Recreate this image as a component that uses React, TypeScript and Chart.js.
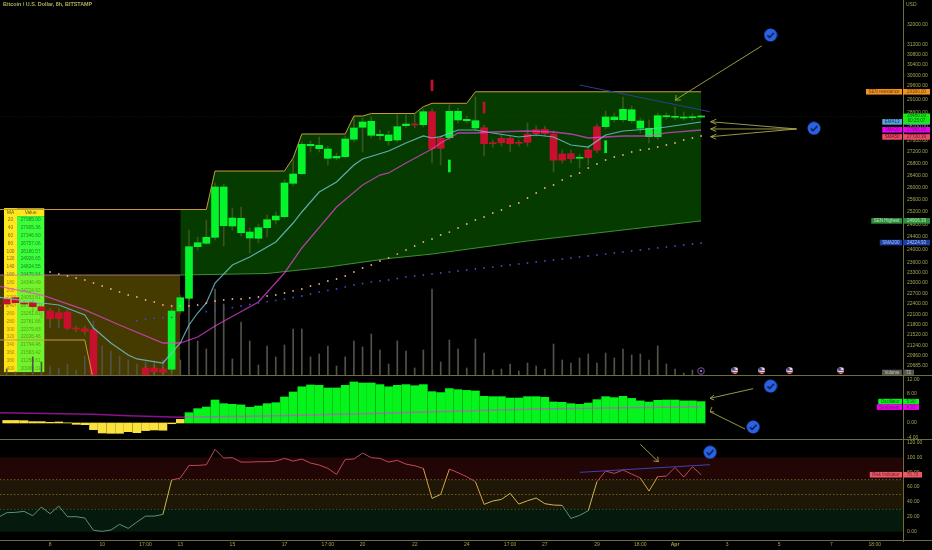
import React, { useEffect, useRef } from "react";
import { Chart, registerables } from "chart.js";

Chart.register(...registerables);

// ---------- data: candles start at index -1 ----------
const candleOpen = [22365,22538,22575,22423,22431,22317,22203,22146,22166,21703,21697,21661,null,null,null,null,null,20634,20634,20608,20600,22194,22558,24097,24202,24388,24753,24743,24532,24367,24357,24690,24935,25040,26133,26456,27420,27316,26983,26993,27038,27647,28075,27788,27774,27597,27622,28132,28193,28168,28640,27682,27703,28338,28312,28050,28060,27516,27682,27682,27540,27835,27989,28003,27835,27132,27142,26983,27271,28096,28096,28348,28348,28312,28040,27739,27739,28457,28436,28410,28421,28447];
const candleClose = [22337,22394,22431,22394,22317,22203,21977,21977,21709,21689,21625,20300,null,null,null,null,null,20432,20529,20521,22194,22575,24097,24220,24388,26010,26010,24998,24989,24554,24690,24944,25062,26143,26446,27470,27470,27435,27306,27052,27657,28050,28266,28291,27824,27799,28096,28193,28157,28640,27316,27330,28655,28655,28363,28312,27491,27491,27526,27491,27505,27540,27845,27845,26918,26918,26970,27018,27004,27261,28447,28447,28728,28713,28302,28040,28494,28494,28472,28447,28457,28465];
const wickHigh = [22423,22595,22653,22480,22509,22394,22280,22280,22223,21772,21772,21717,null,null,null,null,null,20687,20713,20660,22365,22653,24617,24398,24935,26143,26110,25320,25352,24680,24807,25094,25191,26244,26924,27551,27587,27728,27410,27167,27764,28447,28410,28447,27978,27942,28519,28519,28556,28739,28739,27764,28886,28776,28483,29184,28157,27622,27799,27764,27622,28229,28121,28121,27942,27271,27271,27132,27410,28193,28666,28592,29184,28850,28410,28338,28592,28592,28813,28629,28556,28519];
const wickLow = [22223,22308,22337,22337,22166,21997,21717,21717,21661,21606,21523,20300,null,null,null,null,null,20424,20424,20424,20529,22109,22509,23996,24149,24304,24118,24617,24429,23903,24211,24398,24807,24998,26043,26412,27201,27201,26752,26924,26993,27551,27201,27693,27622,27445,27551,28050,28050,28085,26821,26752,27622,28229,28229,27942,27062,27375,27410,27201,27410,27410,27764,27764,26514,26821,26821,26650,26752,27167,28014,28266,28266,28229,27871,27516,27657,28374,28338,28338,28338,28410];
const volumes = [240,560,320,240,1520,1120,800,640,960,480,1600,4400,2400,2000,1600,1280,960,1120,1200,1280,3600,1280,6320,2800,2160,6960,5760,1360,4320,2800,880,2400,1520,2480,3760,3760,1520,1760,2400,800,1520,2800,2320,3360,2080,960,2800,2000,640,2080,6960,1120,2880,2160,640,2960,1840,480,560,960,400,1040,800,560,2560,1280,1040,1440,1760,1040,1840,1440,2160,1680,1760,1280,2400,960,560,240,480,72];

const ema13Idx = [-1,4,6,9,10,12,14,15,18,19,20,21,22,23,24,26,28,31,33,34,36,38,40,41,44,46,48,49,50,52,54,56,59,61,63,65,67,69,71,74,76,80];
const ema13Val = [22595,22423,22365,22081,21717,21304,20979,20873,20766,21033,21304,21800,22137,22423,23004,23539,23781,24242,24838,25191,25844,26177,26752,26959,27236,27516,27764,27693,27740,27978,27978,27871,27728,27799,27728,27445,27375,27799,27942,28014,28085,28266];
const sma20Idx = [-1,4,9,13,18,20,22,24,29,32,34,38,41,43,44,46,49,50,51,52,54,56,60,63,65,67,69,71,74,76,80];
const sma20Val = [22916,22653,22223,21800,21304,21304,21468,21772,22451,23300,24058,25352,26076,26412,26480,26821,27306,27516,27693,27871,27871,27906,27942,27906,27835,27693,27728,27764,27764,27871,27978];

// dotted SMA50, index 5..80
const sma50Start = 5;
const sma50Val = [23329,23270,23210,23151,23092,23004,22916,22828,22741,22653,22595,22509,22451,22365,22337,22337,22337,22365,22423,22480,22509,22538,22538,22566,22595,22624,22653,22711,22770,22828,22916,22975,23063,23122,23210,23329,23449,23539,23660,23751,23872,23996,24118,24242,24335,24460,24553,24680,24807,24935,25030,25159,25255,25385,25482,25647,25811,25977,26076,26244,26378,26480,26650,26786,26924,27028,27097,27201,27271,27306,27375,27445,27516,27622,27693,27764];
// dotted SMA200
const sma200Idx = [5,6,15,16,17,18,19,23,24,25,26,27,28,29,30,31,32,33,34,35,36,37,38,39,40,41,42,43,44,45,46,47,48,49,50,51,52,53,54,55,56,57,58,59,60,61,62,63,64,65,66,67,68,69,70,71,72,73,74,75,76,77,78,79,80];
const sma200Val = [21780,21780,21921,21968,21987,22005,22016,22175,22209,22252,22288,22337,22380,22423,22460,22500,22538,22580,22624,22682,22741,22785,22828,22887,22945,22989,23034,23063,23092,23136,23181,23210,23240,23270,23300,23329,23359,23389,23419,23449,23479,23509,23539,23569,23600,23630,23660,23691,23721,23751,23781,23812,23842,23872,23903,23934,23965,23996,24027,24058,24089,24118,24149,24180,24211];

// step channel (SEN highest) and lower edges
const highIdx = [-1,23,24,32,33,34,39,40,41,42,47,48,49,53,54,80];
const highVal = [25271,25271,26547,26547,26993,27835,27835,28483,28483,28574,28574,28824,28949,28949,29380,29380];
const lowStepIdx = [-1,9,10];
const lowStepVal = [21386,21386,20300];
const greenTopIdx = [20,23,24,32,33,34,39,40,41,42,47,48,49,53,54,80];
const greenTopVal = [25271,25271,26547,26547,26993,27835,27835,28483,28483,28574,28574,28824,28949,28949,29380,29380];
const greenLowIdx = [20,30,37,44,49,60,70,80];
const greenLowVal = [23240,23285,23479,23736,23872,24273,24586,24906];
const oliveIdx = [-1,20];
const oliveTop = [23240,23240];

const sellSignalIdx = [49,55];
const sellSignalTop = [29826,28997];
const sellSignalBottom = [29422,28592];
const buySignalIdx = [51,69];
const buySignalTop = [26924,27597];
const buySignalBottom = [26514,27177];

const flagIdx = [83.9,87,90.2,96.1];
const flagPrice = [20570,20570,20570,20570];
const eventIdx = [80];
const eventPrice = [20555];

const priceTicks = [32000,31200,30800,30400,30000,29600,29100,28600,28100,27600,27200,26800,26400,26000,25600,25200,24800,24400,24000,23600,23300,23000,22700,22400,22100,21800,21520,21240,20960,20685];

const maLengths = [20,40,60,80,100,120,140,160,180,200,220,240,260,280,300,320,340,360,380,400];
const maValues = ["27985.00","27905.36","27346.60","26757.06","26180.57","24926.65","24824.55","24479.64","24346.49","24224.93","24053.81","23751.77","23261.81","22781.66","22379.83","22026.46","21794.46","21583.42","21254.61","20999.31"];

const mainTagNames = ["SEN resistance","EMA13","SMA20","SMA50","SEN Highest","SMA200"];
const mainTagValues = [29380,28270.39,27985,27730.39,24906.39,24224.93];
const mainTagBg = ["#f0941e","#58a6e0","#f000f0","#e84a68","#2f8f3a","#1b3ea8"];
const mainTagFg = ["#6b3a08","#0d3050","#6a0a6a","#6a1020","#b8e0b8","#b0c4f0"];

const trendBlue = [[66,29635],[81,28640]];
const mainArrows = [
  [[87,31160],[77,29070]],
  [[77.65,29070],[77,29070],[77.1,29258]],
  [[91,28014],[81.1,28275]],
  [[91,28014],[81.1,28014]],
  [[91,28014],[81.1,27739]],
  [[81.75,28366],[81.1,28275],[81.75,28186]],
  [[81.75,28103],[81.1,28014],[81.75,27924]],
  [[81.75,27828],[81.1,27739],[81.75,27650]],
];
const mainBadges = [[88,31593],[93,28040]];

// oscillator pane, index 0..80
const oscVal = [0.7,0.7,0.64,0.37,0.37,0.18,0.28,0.05,-0.37,-0.46,-1.84,-2.76,-2.85,-2.85,-2.4,-2.67,-2.1,-1.93,-2.0,-0.2,1.0,2.85,3.96,4.4,6.35,5.34,5.16,5.0,4.33,4.7,5.34,5.6,7.18,8.56,10.0,10.5,10.4,9.67,9.67,10.4,11.33,11.05,11.05,10.6,10.0,10.4,10.6,10.3,10.6,8.65,8.4,9.5,9.2,9.0,8.84,7.37,7.27,7.27,6.9,6.9,7.27,7.27,7.09,5.8,5.7,5.34,5.16,5.5,6.45,7.27,7.0,7.37,6.8,6.1,5.8,6.26,6.35,6.35,6.1,6.1,5.9];
const oscTicks = [12,8,4,0,-4];
const signalIdx = [-1,10,14,20,30,41,61,80];
const signalVal = [2.85,2.4,2.0,1.6,1.93,2.57,3.87,4.5];
const oscArrows = [
  [[86,9.48],[81.03,6.82]],
  [[81.5,7.73],[81.03,6.82],[81.5,6.35]],
  [[85.06,-1.66],[81.03,3.12]],
  [[81.5,3.04],[81.03,3.12],[81.25,4.42]],
];
const oscBadges = [[88,10.2],[86,-1.1]];
const oscTagNames = ["Oscillator","Sentiment"];
const oscTagValues = [5.9,4.39];
const oscTagBg = ["#0cf01c","#f000f0"];
const oscTagFg = ["#0a6010","#6a0a6a"];

// risk pane, index -1..80
const riskVal = [19,25.6,26,27.4,21.5,33.2,24.2,34.5,20.2,20.2,18.4,1.8,0.5,2.2,9.9,4.5,13,21,21,23.3,69.5,72.2,89.2,89.2,90.1,110.8,99.1,99.6,93.7,93.7,94.2,94.2,95,98.7,95,97.8,92.4,89.7,85.2,77.1,97.3,97.8,105.8,99.6,98.7,93.7,96,91,88.8,85.2,44.8,50.2,84.3,79.4,74,67.3,36.8,41.3,43.5,51.6,37.2,41.7,45.3,37.7,35.9,35.4,17.9,22,28.3,67.3,81.6,78.5,83,77.6,72.2,54.7,74,74.9,86.5,73.5,87.4,76.7];
const riskTicks = [120,100,80,60,40,20,0];
const riskBandEdges = [100,70,30,0];
const riskBandColors = ["#220505","#1f1706","#051a0c"];
const riskLevels = [70,50,30];
const riskLevelColors = ["#8c6f38","#8c6f38","#2f7040"];
const riskTrend = [[66.05,79.9],[81.03,90.2]];
const riskArrows = [
  [[73,117.6],[75.07,94.2]],
  [[74.5,95.2],[75.07,94.2],[75,100.9]],
];
const riskBadges = [[81.03,106.9]];

const timeTickIdx = [5,11,16,20,26,32,37,41,47,53,58,62,68,73,77,83,89,95,100];
const timeTickLabels = ["8","10","17:00","13","15","17","17:00","20","22","24","17:00","27","29","18:00","Apr","3","5","7","18:00"];

// ---------- styling ----------
const X_MIN = -0.772;
const X_MAX = 103.26;
const FONT = "'Liberation Sans', Arial, sans-serif";
const AXIS_TEXT = "#a6a655";
const AXIS_LINE = "#6e6e38";
const ARROW = "#a8a848";
const GREEN = "#05f52c";
const RED = "#c8102e";

const pts = (xs: number[], ys: number[]) => xs.map((x, i) => ({ x, y: ys[i] }));
const seq = (ys: (number | null)[], start: number) => ys.map((y, i) => ({ x: start + i, y }));
const pairs = (p: number[][]) => p.map(([x, y]) => ({ x, y }));

const makeBadge = () => {
  const c = document.createElement("canvas");
  c.width = 14; c.height = 14;
  const g = c.getContext("2d")!;
  g.fillStyle = "#2a62e6";
  g.beginPath(); g.arc(7, 7, 6.5, 0, Math.PI * 2); g.fill();
  g.strokeStyle = "#0d1a40"; g.lineWidth = 1.5;
  g.beginPath(); g.moveTo(3.8, 7.2); g.lineTo(6, 9.4); g.lineTo(10.4, 4.8); g.stroke();
  return c;
};
const makeFlag = () => {
  const c = document.createElement("canvas");
  c.width = 7; c.height = 7;
  const g = c.getContext("2d")!;
  g.fillStyle = "#e8e8f0"; g.beginPath(); g.arc(3.5, 3.5, 3.2, 0, Math.PI * 2); g.fill();
  g.fillStyle = "#c84050"; g.fillRect(1, 3, 5.5, 1); g.fillRect(1, 5, 5, 1);
  g.fillStyle = "#3048a8"; g.fillRect(0.8, 1, 2.8, 2.2);
  return c;
};
const makeEvent = () => {
  const c = document.createElement("canvas");
  c.width = 8; c.height = 8;
  const g = c.getContext("2d")!;
  g.strokeStyle = "#7a4fb0"; g.lineWidth = 1;
  g.beginPath(); g.arc(4, 4, 3.3, 0, Math.PI * 2); g.stroke();
  g.fillStyle = "#9a78c8"; g.fillRect(3, 3, 2, 2);
  return c;
};

const lineDs = (data: any[], color: string, width: number, order: number, extra: any = {}) => ({
  type: "line", data, borderColor: color, borderWidth: width, pointRadius: 0, tension: 0, fill: false, order, ...extra,
});
const dotDs = (data: any[], color: string, order: number) => ({
  type: "line", data, showLine: false, pointRadius: 0.9, pointBorderWidth: 0, pointBackgroundColor: color, order,
});
const badgeDs = (list: number[][], img: HTMLCanvasElement) => ({
  type: "line", data: pairs(list), showLine: false, pointStyle: img, pointRadius: 7, order: 0, clip: false,
});

const zeroPad = (s: any) => { s.paddingTop = 0; s.paddingBottom = 0; s.paddingLeft = 0; s.paddingRight = 0; };

const xScale = (display: boolean) => ({
  type: "linear", min: X_MIN, max: X_MAX, offset: false, display,
  grid: { display: false, drawTicks: false }, border: { display: false },
  afterFit: zeroPad,
});
const yCommon = (ticks: number[], digits: number) => ({
  position: "right",
  grid: { display: false, drawTicks: false },
  border: { display: true, color: AXIS_LINE, width: 1 },
  afterFit: (s: any) => { s.width = 29; zeroPad(s); },
  afterBuildTicks: (s: any) => { s.ticks = ticks.map((value) => ({ value })); },
  ticks: {
    autoSkip: false, padding: 4, color: AXIS_TEXT, font: { size: 5, family: FONT },
    callback: (v: any) => Number(v).toFixed(digits),
  },
});

const separator = {
  id: "separator",
  afterDraw(chart: any) {
    const { ctx, chartArea } = chart;
    ctx.save();
    ctx.strokeStyle = AXIS_LINE; ctx.lineWidth = 1;
    ctx.beginPath();
    ctx.moveTo(0, chartArea.bottom - 0.5); ctx.lineTo(chart.width, chartArea.bottom - 0.5);
    ctx.stroke();
    ctx.restore();
  },
};

const drawTag = (ctx: any, name: string, value: string, y: number, bg: string, fg: string, axisX: number, valueWidth: number) => {
  ctx.save();
  ctx.font = `4.5px ${FONT}`;
  ctx.textBaseline = "middle";
  if (name) {
    const w = ctx.measureText(name).width + 5;
    ctx.fillStyle = bg; ctx.fillRect(axisX - 1 - w, y - 2.8, w, 5.6);
    ctx.fillStyle = fg; ctx.textAlign = "center"; ctx.fillText(name, axisX - 1 - w / 2, y + 0.2);
  }
  ctx.fillStyle = bg; ctx.fillRect(axisX, y - 2.8, valueWidth, 5.6);
  ctx.fillStyle = fg; ctx.textAlign = "center"; ctx.fillText(value, axisX + valueWidth / 2, y + 0.2);
  ctx.restore();
};

const tablePlugin = {
  id: "maTable",
  beforeDatasetsDraw(chart: any) {
    const { ctx } = chart;
    const left = 4, split = 17, right = 44.3, top = 208.3, rowH = 7.8;
    const rows = maLengths.length + 1;
    ctx.save();
    ctx.fillStyle = "#ffe61e"; ctx.fillRect(left, top, right - left, rowH);
    ctx.fillRect(left, top, split - left, rowH * rows);
    ctx.fillStyle = "#3cff3c"; ctx.fillRect(split, top + rowH, right - split, rowH * (rows - 1));
    ctx.font = `4.8px ${FONT}`; ctx.textAlign = "center"; ctx.textBaseline = "middle";
    ctx.fillStyle = "#5e5a10";
    ctx.fillText("MA", (left + split) / 2, top + rowH / 2);
    ctx.fillText("Value", (split + right) / 2, top + rowH / 2);
    maLengths.forEach((m, i) => {
      const y = top + rowH * (i + 1.5);
      ctx.fillStyle = "#7a7414"; ctx.fillText(String(m), (left + split) / 2, y);
      ctx.fillStyle = "#1c8a24"; ctx.fillText(maValues[i], (split + right) / 2, y);
    });
    ctx.restore();
  },
};

const mainLabels = {
  id: "mainLabels",
  afterDraw(chart: any) {
    const { ctx, scales, chartArea } = chart;
    const ax = chartArea.right;
    ctx.save();
    ctx.font = `bold 5.4px ${FONT}`; ctx.fillStyle = "#b0b060"; ctx.textBaseline = "middle"; ctx.textAlign = "left";
    ctx.fillText("Bitcoin / U.S. Dollar, 8h, BITSTAMP", 3, 5);
    ctx.font = `5px ${FONT}`; ctx.fillStyle = AXIS_TEXT;
    ctx.fillText("USD", 906, 4.5);
    ctx.restore();
    mainTagNames.forEach((n, i) => {
      const y = scales.y.getPixelForValue(mainTagValues[i]);
      drawTag(ctx, n, mainTagValues[i].toFixed(2), y, mainTagBg[i], mainTagFg[i], ax, 27);
    });
    // live price box
    const yp = scales.y.getPixelForValue(28480);
    ctx.save();
    ctx.fillStyle = "#18e818"; ctx.fillRect(ax, yp - 2.6, 27, 10.2);
    ctx.fillStyle = "#0a5c12"; ctx.font = `4.5px ${FONT}`; ctx.textAlign = "center"; ctx.textBaseline = "middle";
    ctx.fillText("28480.00", ax + 13.5, yp);
    ctx.fillText("00:25:07", ax + 13.5, yp + 5);
    ctx.restore();
    const yv = scales.yVol.getPixelForValue(scales.yVol.max) + 372.5;
    drawTag(ctx, "Volume", "72", yv, "#555550", "#c8c8c0", ax, 11);
  },
};

const oscLabels = {
  id: "oscLabels",
  afterDraw(chart: any) {
    const { ctx, scales, chartArea } = chart;
    oscTagNames.forEach((n, i) => {
      drawTag(ctx, n, oscTagValues[i].toFixed(2), scales.y.getPixelForValue(oscTagValues[i]), oscTagBg[i], oscTagFg[i], chartArea.right, 16);
    });
  },
};

const riskBands = {
  id: "riskBands",
  beforeDatasetsDraw(chart: any) {
    const { ctx, scales, chartArea } = chart;
    ctx.save();
    riskBandColors.forEach((col, i) => {
      const a = scales.y.getPixelForValue(riskBandEdges[i]);
      const b = scales.y.getPixelForValue(riskBandEdges[i + 1]);
      ctx.fillStyle = col;
      ctx.fillRect(chartArea.left, a, chartArea.width, b - a);
    });
    ctx.restore();
  },
  afterDraw(chart: any) {
    const { ctx, scales, chartArea } = chart;
    const v = riskVal[riskVal.length - 1];
    drawTag(ctx, "Risk Indicator", v.toFixed(2), scales.y.getPixelForValue(v), "#e85a68", "#7a1a20", chartArea.right, 19);
  },
};

const riskColor = (v: number) => {
  if (v >= 70) return "#c0485a";
  if (v >= 50) return "#d8a040";
  if (v >= 30) return "#c8b850";
  return "#5c9078";
};

const baseOptions = (scales: any) => ({
  responsive: false,
  animation: false,
  devicePixelRatio: 1,
  layout: { padding: 0, autoPadding: false },
  plugins: { legend: { display: false }, tooltip: { enabled: false } },
  scales,
});

const clampFloat = (lo: (number | null)[], hi: (number | null)[], start: number) =>
  lo.map((a, i) => ({ x: start + i, y: a === null ? null : [a, hi[i]] })).filter((d) => d.y !== null);

export default function App() {
  const mainRef = useRef<HTMLCanvasElement>(null);
  const oscRef = useRef<HTMLCanvasElement>(null);
  const riskRef = useRef<HTMLCanvasElement>(null);

  useEffect(() => {
    document.body.style.margin = "0";
    document.body.style.background = "#000";
    const badge = makeBadge();

    const main = new Chart(mainRef.current!, {
      type: "bar",
      data: {
        datasets: [
          lineDs(pts(oliveIdx, oliveTop), "#b88a90", 0.8, 90, { fill: { value: 20000 }, backgroundColor: "rgba(255,215,0,0.27)" }),
          lineDs(pts(greenTopIdx, greenTopVal), "transparent", 0, 89, { fill: "+1", backgroundColor: "rgba(24,255,0,0.23)" }),
          lineDs(pts(greenLowIdx, greenLowVal), "#3c8f34", 1, 40),
          {
            type: "bar", yAxisID: "yVol", data: seq(volumes, -1), grouped: false, barThickness: 1,
            backgroundColor: "#52524a", order: 70,
          },
          {
            type: "bar", data: clampFloat(wickLow, wickHigh, -1), grouped: false, barThickness: 1,
            backgroundColor: "rgba(130,125,70,0.4)", order: 30,
          },
          {
            type: "bar", data: clampFloat(candleOpen, candleClose, -1), grouped: false, barThickness: 7, minBarLength: 1,
            backgroundColor: (ctx: any) => {
              const r = ctx.raw?.y;
              if (!r) return GREEN;
              const col = r[1] >= r[0] ? GREEN : RED;
              return col;
            },
            order: 20,
          },
          { type: "bar", data: clampFloat(sellSignalTop, sellSignalBottom, 0).map((d, i) => ({ ...d, x: sellSignalIdx[i] })), grouped: false, barThickness: 2, backgroundColor: RED, order: 19 },
          { type: "bar", data: clampFloat(buySignalTop, buySignalBottom, 0).map((d, i) => ({ ...d, x: buySignalIdx[i] })), grouped: false, barThickness: 2, backgroundColor: GREEN, order: 19 },
          lineDs(pts(highIdx, highVal), "#c89a3c", 1, 15),
          lineDs(pts(lowStepIdx, lowStepVal), "#c89a3c", 1, 15),
          lineDs(pts(ema13Idx, ema13Val), "rgba(110,190,205,0.85)", 1.2, 12),
          lineDs(pts(sma20Idx, sma20Val), "rgba(235,70,225,0.7)", 1.3, 11),
          dotDs(seq(sma50Val, sma50Start), "#f0a878", 10),
          dotDs(pts(sma200Idx, sma200Val), "#3a4cc8", 10),
          lineDs(pairs([[X_MIN, 28459], [X_MAX, 28459]]), "rgba(60,110,50,0.22)", 1, 50, { borderDash: [1, 2] }),
          lineDs(pairs(trendBlue), "#2a3c98", 1, 8),
          ...mainArrows.map((a) => lineDs(pairs(a), ARROW, 0.9, 5, { clip: false })),
          badgeDs(mainBadges, badge),
          { type: "line", data: pts(flagIdx, flagPrice), showLine: false, pointStyle: makeFlag(), pointRadius: 3.5, order: 1 },
          { type: "line", data: pts(eventIdx, eventPrice), showLine: false, pointStyle: makeEvent(), pointRadius: 4, order: 1 },
        ] as any,
      },
      options: baseOptions({
        x: xScale(false),
        y: { type: "logarithmic", min: 20423, max: 33040, ...yCommon(priceTicks, 2) },
        yVol: { type: "linear", display: false, min: 0, max: 376 * 80, afterFit: zeroPad },
      }) as any,
      plugins: [tablePlugin, mainLabels, separator],
    });

    const osc = new Chart(oscRef.current!, {
      type: "bar",
      data: {
        datasets: [
          {
            type: "bar", data: seq(oscVal, 0), grouped: false, barThickness: 8, order: 20,
            backgroundColor: (ctx: any) => {
              const v = ctx.raw?.y ?? 0;
              return v > 2 ? "#04f41c" : "#fbe23c";
            },
          },
          lineDs(pts(signalIdx, signalVal), "rgba(255,30,255,0.55)", 1.4, 10),
          ...oscArrows.map((a) => lineDs(pairs(a), ARROW, 0.9, 5, { clip: false })),
          badgeDs(oscBadges, badge),
        ] as any,
      },
      options: baseOptions({
        x: xScale(false),
        y: { type: "linear", min: -4.7, max: 12.98, ...yCommon(oscTicks, 2) },
      }) as any,
      plugins: [oscLabels, separator],
    });

    const risk = new Chart(riskRef.current!, {
      type: "line",
      data: {
        datasets: [
          ...riskLevels.map((lv, i) =>
            lineDs(pairs([[X_MIN, lv], [X_MAX, lv]]), riskLevelColors[i], 0.8, 30, { borderDash: [1.5, 2] })
          ),
          lineDs(seq(riskVal, -1), "#c0485a", 1, 10, {
            segment: { borderColor: (c: any) => riskColor((c.p0.parsed.y + c.p1.parsed.y) / 2) },
          }),
          lineDs(pairs(riskTrend), "#4040b0", 1, 8),
          ...riskArrows.map((a) => lineDs(pairs(a), ARROW, 0.9, 5, { clip: false })),
          badgeDs(riskBadges, badge),
        ] as any,
      },
      options: baseOptions({
        x: {
          ...xScale(true),
          afterFit: (s: any) => { s.height = 9; zeroPad(s); },
          afterBuildTicks: (s: any) => { s.ticks = timeTickIdx.map((value) => ({ value })); },
          ticks: {
            autoSkip: false, maxRotation: 0, padding: 1, color: AXIS_TEXT,
            font: (c: any) => ({ size: 5, family: FONT, weight: c.tick?.value === 77 ? "bold" : "normal" }),
            callback: (v: any) => timeTickLabels[timeTickIdx.indexOf(Number(v))] ?? "",
          },
        },
        y: { type: "linear", min: -12.5, max: 123.4, ...yCommon(riskTicks, 2) },
      }) as any,
      plugins: [riskBands, separator],
    });

    return () => { main.destroy(); osc.destroy(); risk.destroy(); };
  }, []);

  const box = (top: number, height: number): React.CSSProperties => ({ position: "absolute", left: 0, top, width: 932, height });
  return (
    <div style={{ position: "fixed", inset: 0, background: "#000", overflow: "hidden", filter: "blur(0.35px)" }}>
      <div style={box(0, 376)}><canvas ref={mainRef} width={932} height={376} /></div>
      <div style={box(376, 64)}><canvas ref={oscRef} width={932} height={64} /></div>
      <div style={box(440, 110)}><canvas ref={riskRef} width={932} height={110} /></div>
    </div>
  );
}
